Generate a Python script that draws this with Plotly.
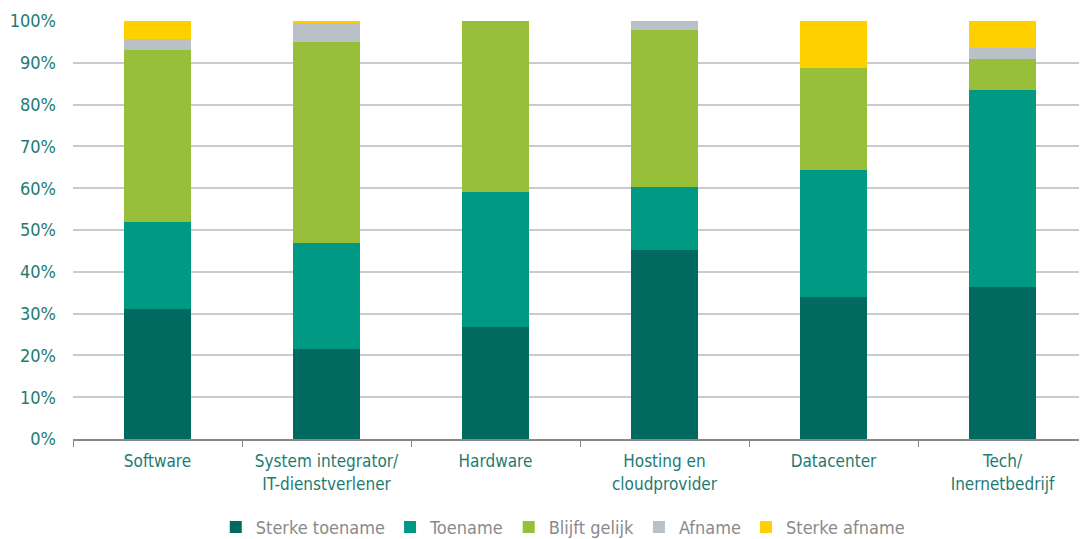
import plotly.graph_objects as go

categories = ["Software", "System integrator/<br>IT-dienstverlener", "Hardware",
              "Hosting en<br>cloudprovider", "Datacenter", "Tech/<br>Inernetbedrijf"]
sterke_toename = [31.1, 21.5, 26.8, 45.2, 34.0, 36.4]
toename = [20.8, 25.4, 32.3, 15.1, 30.4, 47.1]
blijft_gelijk = [41.2, 48.0, 40.9, 37.5, 24.4, 7.4]
afname = [2.5, 4.6, 0.0, 2.2, 0.0, 2.7]
sterke_afname = [4.4, 0.5, 0.0, 0.0, 11.2, 6.4]

series = [
    ("Sterke toename", sterke_toename, "#006a60"),
    ("Toename", toename, "#009a84"),
    ("Blijft gelijk", blijft_gelijk, "#97bf3a"),
    ("Afname", afname, "#b9c0c6"),
    ("Sterke afname", sterke_afname, "#ffd000"),
]

FONT = "DejaVu Sans Condensed, Roboto Condensed, Roboto, sans-serif"
TEXT = "#1e7b72"

fig = go.Figure()
for name, vals, col in series:
    fig.add_trace(go.Bar(x=categories, y=vals, name=name, marker_color=col,
                         marker_line_width=0, width=0.4))

fig.update_layout(
    barmode="stack",
    width=1079, height=531,
    margin=dict(l=65, r=0, t=13, b=100, autoexpand=False),
    plot_bgcolor="white", paper_bgcolor="white",
    font=dict(family=FONT, size=17, color=TEXT),
    legend=dict(orientation="h", x=0.483, xanchor="center", y=-0.167, yanchor="top",
                font=dict(color="#8a8a8a", size=18), traceorder="normal",
                itemwidth=30),
    xaxis=dict(tickson="boundaries", ticks="outside", ticklen=6, tickcolor="#888888",
               showline=True, linecolor="#888888", linewidth=2, automargin=False,
               ticklabelstandoff=6,
               tickfont=dict(size=17, color=TEXT)),
    yaxis=dict(range=[0, 100], dtick=10, ticksuffix="%", showgrid=True,
               gridcolor="#c8ccd0", gridwidth=1.5, zeroline=False, automargin=False,
               ticklabelstandoff=16,
               tickfont=dict(size=18, color=TEXT)),
)

fig.write_html("out.html")
